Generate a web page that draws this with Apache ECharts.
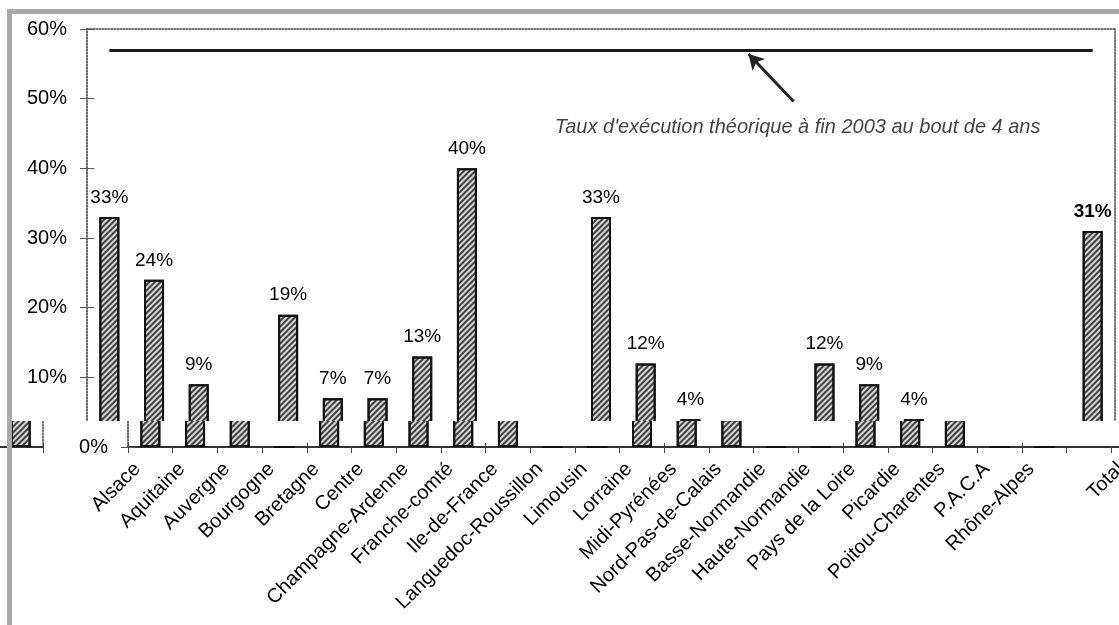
<!DOCTYPE html>
<html lang="fr">
<head>
<meta charset="utf-8">
<title>Taux d'exécution par région</title>
<script src="https://cdn.jsdelivr.net/npm/echarts@6/dist/echarts.min.js"></script>
<style>
  html, body { margin: 0; padding: 0; background: #fff; }
  #page { position: relative; width: 1119px; height: 625px; overflow: hidden; background: #fff; }
  .band { position: absolute; left: 0; width: 1119px; overflow: hidden; }
  .chart { position: absolute; width: 1119px; height: 625px; }
  .frame { position: absolute; background: #a9a9ab; }
</style>
</head>
<body>
<div id="page">
  <div class="band" style="top:0;height:421px">
    <div class="chart" data-dx="0" data-dy="0"></div>
  </div>
  <div class="band" style="top:421px;height:35px">
    <div class="chart" data-dx="41" data-dy="-421"></div>
    <div class="chart" data-dx="-1072" data-dy="-421"></div>
  </div>
  <div class="band" style="top:456px;height:169px">
    <div class="chart" data-dx="28" data-dy="-456"></div>
  </div>
  <div class="frame" style="left:7px;top:9px;width:1112px;height:5px"></div>
  <div class="frame" style="left:7px;top:9px;width:5px;height:616px"></div>
</div>
<script>
// Regions (one blank slot before the national total)
const categories = [
  'Alsace', 'Aquitaine', 'Auvergne', 'Bourgogne', 'Bretagne', 'Centre',
  'Champagne-Ardenne', 'Franche-comté', 'Ile-de-France', 'Languedoc-Roussillon',
  'Limousin', 'Lorraine', 'Midi-Pyrénées', 'Nord-Pas-de-Calais', 'Basse-Normandie',
  'Haute-Normandie', 'Pays de la Loire', 'Picardie', 'Poitou-Charentes', 'P.A.C.A',
  'Rhône-Alpes', '', 'Total'
];
// Execution rate at end of 2003, in %
const rates = [33, 24, 9, 0, 19, 7, 7, 13, 40, 0, 0, 33, 12, 4, 0, 0, 12, 9, 4, 0, 0, null, 31];
const totalLabel = 'Total';
// Theoretical rate after 4 years
const targetRate = 57;
const noteText = "Taux d'exécution théorique à fin 2003 au bout de 4 ans";
// Annotation anchors: [category index, %]
const noteAt = [15.4, 45.9];
const arrowTail = [15.31, 49.6];
const arrowHead = [14.3, 56.4];

const FONT = '"Liberation Sans", Arial, Helvetica, sans-serif';

function buildOption() {
  const barData = rates.map((v, i) => categories[i] === totalLabel
    ? { value: v, label: { fontWeight: 'bold' } }
    : v);

  return {
    animation: false,
    textStyle: { fontFamily: FONT },
    grid: { left: 87, right: 4, top: 29, bottom: 178, containLabel: false, outerBoundsMode: 'none' },
    xAxis: [
      {
        type: 'category', data: categories, position: 'bottom',
        axisLine: { show: true, onZero: false, lineStyle: { color: '#333', width: 2 } },
        axisTick: { show: true, length: 6, lineStyle: { color: '#444', width: 1 } },
        axisLabel: { interval: 0, rotate: 45, margin: 19, fontSize: 20, color: '#000', fontFamily: FONT }
      },
      {
        type: 'category', data: categories, position: 'bottom',
        axisLine: { show: false, onZero: false },
        axisTick: { show: true, inside: true, length: 4, lineStyle: { color: '#444', width: 1 } },
        axisLabel: { show: false }
      },
      {
        type: 'category', data: categories, position: 'top',
        axisLine: { show: true, onZero: false, lineStyle: { color: '#444', type: 'dotted', width: 1.5 } },
        axisTick: { show: false }, axisLabel: { show: false }
      },
      { type: 'value', min: -0.5, max: categories.length - 0.5, show: false }
    ],
    yAxis: [
      {
        type: 'value', min: 0, max: 60, interval: 10, position: 'left',
        axisLine: { show: true, onZero: false, lineStyle: { color: '#333', type: 'dotted', width: 1.5 } },
        axisTick: { show: true, length: 7, lineStyle: { color: '#555', width: 1 } },
        axisLabel: { formatter: '{value}%', margin: 20, fontSize: 20, color: '#000', fontFamily: FONT },
        splitLine: { show: false }
      },
      {
        type: 'value', min: 0, max: 60, interval: 10, position: 'left',
        axisLine: { show: false, onZero: false },
        axisTick: { show: true, inside: true, length: 7, lineStyle: { color: '#555', width: 1 } },
        axisLabel: { show: false }, splitLine: { show: false }
      },
      {
        type: 'value', min: 0, max: 60, interval: 10, position: 'right',
        axisLine: { show: true, onZero: false, lineStyle: { color: '#444', type: 'dotted', width: 1.5 } },
        axisTick: { show: false }, axisLabel: { show: false }, splitLine: { show: false }
      }
    ],
    series: [
      {
        type: 'bar', xAxisIndex: 0, yAxisIndex: 0,
        data: barData, barWidth: 20,
        itemStyle: {
          color: '#d6d6d6', borderColor: '#111', borderWidth: 2,
          decal: {
            symbol: 'rect', symbolSize: 1, color: 'rgba(15,15,15,0.75)',
            dashArrayX: [1, 0], dashArrayY: [1.2, 2], rotation: -Math.PI / 4
          }
        },
        label: {
          show: true, position: 'top', distance: 10, fontSize: 19, color: '#000', fontFamily: FONT,
          formatter: p => (p.value > 0 ? p.value + '%' : '')
        },
        markLine: {
          silent: true, symbol: 'none',
          lineStyle: { color: '#1a1a1a', width: 3, type: 'solid' },
          label: { show: false },
          data: [[{ coord: [categories[0], targetRate] }, { coord: [totalLabel, targetRate] }]]
        }
      },
      {
        type: 'scatter', xAxisIndex: 3, yAxisIndex: 0,
        data: [noteAt], symbolSize: 0, silent: true,
        label: {
          show: true, position: 'inside', formatter: noteText,
          fontSize: 20, fontStyle: 'italic', color: '#111', fontFamily: FONT
        },
        markLine: {
          silent: true, symbol: ['none', 'arrow'], symbolSize: [13, 15],
          lineStyle: { color: '#222', width: 3, type: 'solid' },
          label: { show: false },
          data: [[{ coord: arrowTail }, { coord: arrowHead }]]
        }
      }
    ]
  };
}

document.querySelectorAll('.chart').forEach(el => {
  el.style.left = el.dataset.dx + 'px';
  el.style.top = el.dataset.dy + 'px';
  const chart = echarts.init(el, null, { renderer: 'canvas' });
  chart.setOption(buildOption());
});
</script>
</body>
</html>
